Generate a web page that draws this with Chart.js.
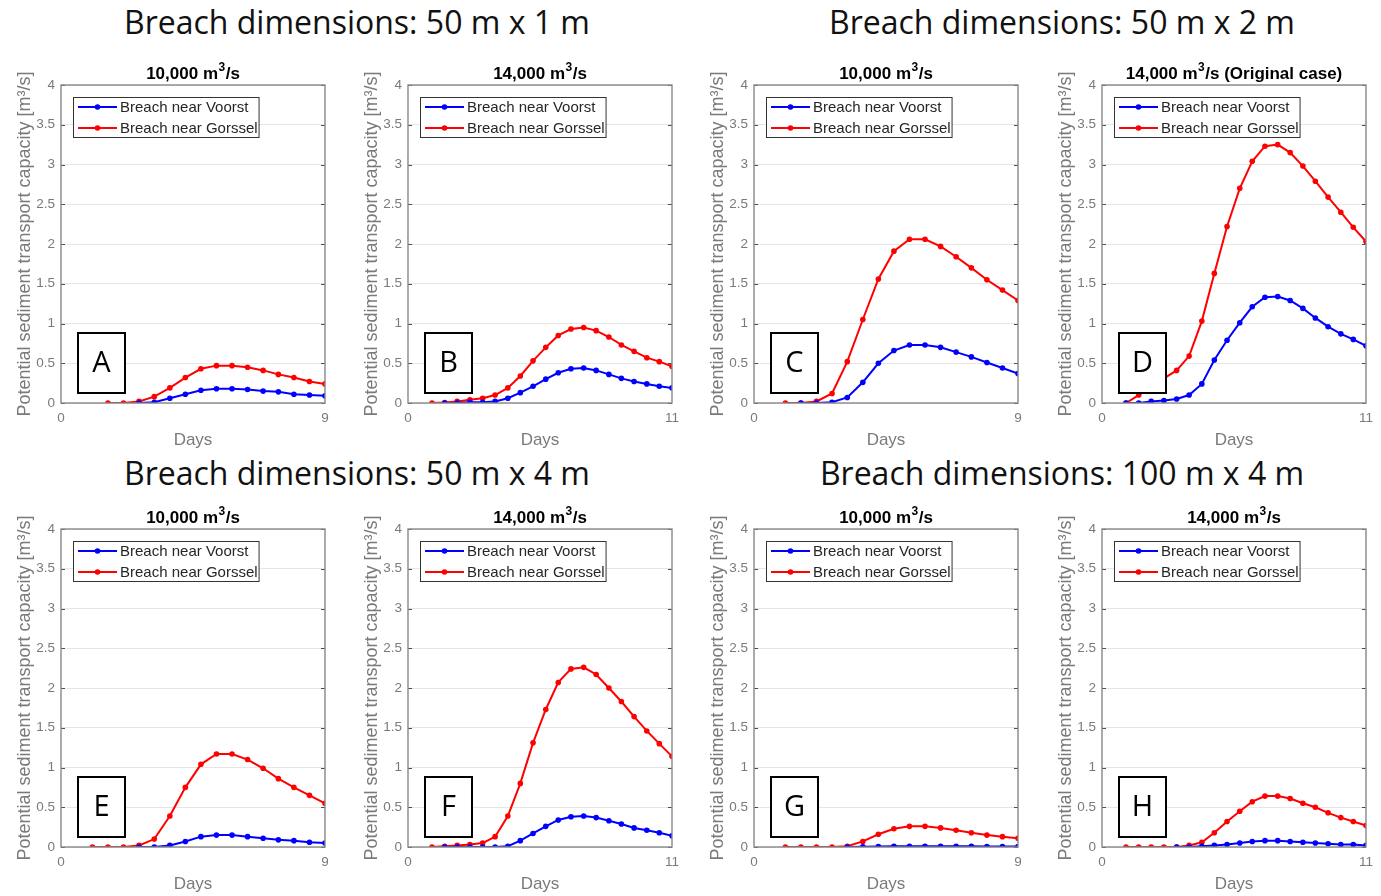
<!DOCTYPE html>
<html lang="en">
<head>
  <meta charset="UTF-8">
  <title>Breach sediment transport capacity</title>
  <script src="https://cdn.jsdelivr.net/npm/chart.js"></script>
  <style>
    html, body {
      margin: 0;
      padding: 0;
      background: #fff;
      overflow: hidden;
    }
    #page {
      position: relative;
      width: 1381px;
      height: 896px;
    }
    .group-title {
      position: absolute;
      width: 700px;
      text-align: center;
      font-family: "Open Sans", sans-serif;
      font-size: 32px;
      color: #111;
      line-height: 40px;
      white-space: nowrap;
    }
    .panel {
      position: absolute;
      width: 340px;
      height: 397px;
    }
  </style>
</head>
<body>
  <div id="page">
    <div class="group-title" style="left:7px; top:2px;">Breach dimensions: 50 m x 1 m</div>
    <div class="group-title" style="left:712px; top:2px;">Breach dimensions: 50 m x 2 m</div>
    <div class="group-title" style="left:7px; top:453px;">Breach dimensions: 50 m x 4 m</div>
    <div class="group-title" style="left:712px; top:453px;">Breach dimensions: 100 m x 4 m</div>

    <div class="panel" style="left:0px; top:55px;"><canvas id="chartA"></canvas></div>
    <div class="panel" style="left:347px; top:55px;"><canvas id="chartB"></canvas></div>
    <div class="panel" style="left:693px; top:55px;"><canvas id="chartC"></canvas></div>
    <div class="panel" style="left:1041px; top:55px;"><canvas id="chartD"></canvas></div>
    <div class="panel" style="left:0px; top:499px;"><canvas id="chartE"></canvas></div>
    <div class="panel" style="left:347px; top:499px;"><canvas id="chartF"></canvas></div>
    <div class="panel" style="left:693px; top:499px;"><canvas id="chartG"></canvas></div>
    <div class="panel" style="left:1041px; top:499px;"><canvas id="chartH"></canvas></div>
  </div>

  <script>
    // time axis (days) for the 10,000 m3/s runs and for the 14,000 m3/s runs
    const daysShort = [1.07, 1.60, 2.13, 2.66, 3.18, 3.71, 4.24, 4.77, 5.30, 5.83, 6.36, 6.89, 7.41, 7.94, 8.47, 9.00];
    const daysLong = [1.00, 1.53, 2.05, 2.58, 3.11, 3.63, 4.16, 4.68, 5.21, 5.74, 6.26, 6.79, 7.32, 7.84, 8.37, 8.89, 9.42, 9.95, 10.47, 11.00];

    const seriesNames = ['Breach near Voorst', 'Breach near Gorssel'];
    const yTicks = [0, 0.5, 1, 1.5, 2, 2.5, 3, 3.5, 4];

    // A: 50 m x 1 m, 10,000 m3/s
    const voorstA = [null, null, null, 0, 0.01, 0.06, 0.11, 0.16, 0.18, 0.18, 0.17, 0.15, 0.14, 0.11, 0.10, 0.09];
    const gorsselA = [null, 0, 0, 0.02, 0.08, 0.19, 0.32, 0.43, 0.47, 0.47, 0.45, 0.41, 0.36, 0.32, 0.27, 0.24];
    // B: 50 m x 1 m, 14,000 m3/s
    const voorstB = [null, 0, 0, 0.01, 0.01, 0.02, 0.06, 0.13, 0.21, 0.30, 0.38, 0.43, 0.44, 0.41, 0.36, 0.31, 0.27, 0.24, 0.21, 0.19];
    const gorsselB = [0, 0.005, 0.02, 0.04, 0.06, 0.10, 0.19, 0.34, 0.53, 0.70, 0.85, 0.93, 0.95, 0.91, 0.83, 0.73, 0.65, 0.57, 0.52, 0.46];
    // C: 50 m x 2 m, 10,000 m3/s
    const voorstC = [null, 0, 0, 0.01, 0.07, 0.26, 0.50, 0.66, 0.73, 0.73, 0.70, 0.64, 0.58, 0.51, 0.44, 0.37];
    const gorsselC = [0, 0, 0.02, 0.12, 0.52, 1.05, 1.56, 1.91, 2.06, 2.06, 1.97, 1.84, 1.70, 1.55, 1.42, 1.29];
    // D: 50 m x 2 m, 14,000 m3/s (original case)
    const voorstD = [0, 0, 0.02, 0.03, 0.05, 0.10, 0.24, 0.54, 0.79, 1.01, 1.21, 1.33, 1.34, 1.29, 1.19, 1.07, 0.96, 0.87, 0.80, 0.72];
    const gorsselD = [0, 0.10, 0.21, 0.31, 0.41, 0.59, 1.03, 1.63, 2.22, 2.70, 3.04, 3.23, 3.25, 3.15, 2.98, 2.79, 2.59, 2.40, 2.21, 2.03];
    // E: 50 m x 4 m, 10,000 m3/s
    const voorstE = [null, null, null, 0, 0, 0.02, 0.07, 0.13, 0.15, 0.15, 0.13, 0.11, 0.09, 0.08, 0.06, 0.05];
    const gorsselE = [0, 0, 0, 0.02, 0.10, 0.39, 0.75, 1.04, 1.17, 1.17, 1.10, 0.99, 0.86, 0.75, 0.65, 0.55];
    // F: 50 m x 4 m, 14,000 m3/s
    const voorstF = [null, 0, 0, 0, 0, 0, 0.01, 0.08, 0.17, 0.26, 0.34, 0.38, 0.39, 0.37, 0.33, 0.29, 0.24, 0.21, 0.18, 0.14];
    const gorsselF = [0, 0.01, 0.02, 0.03, 0.05, 0.13, 0.39, 0.80, 1.31, 1.73, 2.07, 2.24, 2.26, 2.17, 2.00, 1.83, 1.64, 1.46, 1.30, 1.14];
    // G: 100 m x 4 m, 10,000 m3/s
    const voorstG = [null, null, null, null, 0, 0.003, 0.006, 0.008, 0.01, 0.01, 0.01, 0.009, 0.008, 0.007, 0.006, 0.005];
    const gorsselG = [0, 0, 0, 0, 0.01, 0.07, 0.16, 0.23, 0.26, 0.26, 0.24, 0.21, 0.18, 0.15, 0.13, 0.11];
    // H: 100 m x 4 m, 14,000 m3/s
    const voorstH = [null, null, null, null, 0, 0, 0.01, 0.02, 0.03, 0.05, 0.07, 0.08, 0.08, 0.07, 0.06, 0.05, 0.04, 0.03, 0.03, 0.02];
    const gorsselH = [0, 0, 0, 0, 0, 0.02, 0.06, 0.18, 0.32, 0.45, 0.57, 0.64, 0.64, 0.61, 0.55, 0.50, 0.43, 0.37, 0.32, 0.27];

    // panel titles are split round the superscript 3
    const panels = [
      { id: 'chartA', letter: 'A', title: ['10,000 m', '3', '/s'], days: daysShort, maxDay: 9, voorst: voorstA, gorssel: gorsselA },
      { id: 'chartB', letter: 'B', title: ['14,000 m', '3', '/s'], days: daysLong, maxDay: 11, voorst: voorstB, gorssel: gorsselB },
      { id: 'chartC', letter: 'C', title: ['10,000 m', '3', '/s'], days: daysShort, maxDay: 9, voorst: voorstC, gorssel: gorsselC },
      { id: 'chartD', letter: 'D', title: ['14,000 m', '3', '/s (Original case)'], days: daysLong, maxDay: 11, voorst: voorstD, gorssel: gorsselD },
      { id: 'chartE', letter: 'E', title: ['10,000 m', '3', '/s'], days: daysShort, maxDay: 9, voorst: voorstE, gorssel: gorsselE },
      { id: 'chartF', letter: 'F', title: ['14,000 m', '3', '/s'], days: daysLong, maxDay: 11, voorst: voorstF, gorssel: gorsselF },
      { id: 'chartG', letter: 'G', title: ['10,000 m', '3', '/s'], days: daysShort, maxDay: 9, voorst: voorstG, gorssel: gorsselG },
      { id: 'chartH', letter: 'H', title: ['14,000 m', '3', '/s'], days: daysLong, maxDay: 11, voorst: voorstH, gorssel: gorsselH }
    ];

    const seriesColors = ['#0000ff', '#ff0000'];
    const axisGray = '#7a7a7a';
    const sans = '"Liberation Sans", Arial, sans-serif';

    function toPoints(days, values) {
      return days.map((d, i) => ({ x: d, y: values[i] })).filter(p => p.y !== null);
    }

    // MATLAB-like decorations: box, inner ticks, panel title, legend, letter box
    const matlabBox = {
      id: 'matlabBox',
      afterDatasetsDraw(chart, args, opts) {
        const { ctx, chartArea: a } = chart;
        const yScale = chart.scales.y;
        ctx.save();

        // ticks on both sides, pointing in
        ctx.strokeStyle = '#4d4d4d';
        ctx.lineWidth = 1;
        yTicks.forEach(v => {
          const y = Math.round(yScale.getPixelForValue(v)) + 0.5;
          ctx.beginPath();
          ctx.moveTo(a.left, y); ctx.lineTo(a.left + 4, y);
          ctx.moveTo(a.right, y); ctx.lineTo(a.right - 4, y);
          ctx.stroke();
        });

        // frame
        ctx.strokeStyle = '#888';
        ctx.lineWidth = 1.4;
        ctx.strokeRect(a.left, a.top, a.right - a.left, a.bottom - a.top);

        // panel title with a superscript
        const [t1, sup, t2] = opts.title;
        const mainFont = 'bold 17px ' + sans;
        const supFont = 'bold 12px ' + sans;
        ctx.textBaseline = 'alphabetic';
        ctx.textAlign = 'left';
        ctx.font = mainFont;
        const w1 = ctx.measureText(t1).width, w3 = ctx.measureText(t2).width;
        ctx.font = supFont;
        const w2 = ctx.measureText(sup).width + 1;
        let tx = (a.left + a.right) / 2 - (w1 + w2 + w3) / 2;
        const base = a.top - 6;
        ctx.fillStyle = '#000';
        ctx.font = mainFont;
        ctx.fillText(t1, tx, base);
        ctx.font = supFont;
        ctx.fillText(sup, tx + w1 + 0.5, base - 8);
        ctx.font = mainFont;
        ctx.fillText(t2, tx + w1 + w2, base);

        // legend
        ctx.font = '15px ' + sans;
        ctx.textAlign = 'left';
        ctx.textBaseline = 'middle';
        const textW = Math.max(...seriesNames.map(n => ctx.measureText(n).width));
        const bx = a.left + 12, by = a.top + 12;
        const bw = 47 + textW + 1, bh = 40;
        ctx.fillStyle = '#fff';
        ctx.fillRect(bx, by, bw, bh);
        ctx.strokeStyle = '#333';
        ctx.lineWidth = 1;
        ctx.strokeRect(bx + 0.5, by + 0.5, bw, bh);
        seriesNames.forEach((name, i) => {
          const ly = by + 10 + i * 21;
          ctx.strokeStyle = seriesColors[i];
          ctx.lineWidth = 2;
          ctx.beginPath();
          ctx.moveTo(bx + 5, ly); ctx.lineTo(bx + 44, ly);
          ctx.stroke();
          ctx.fillStyle = seriesColors[i];
          ctx.beginPath();
          ctx.arc(bx + 24.5, ly, 2.8, 0, Math.PI * 2);
          ctx.fill();
          ctx.fillStyle = '#262626';
          ctx.fillText(name, bx + 47, ly + 1);
        });

        // letter box
        const lx = a.left + 17, lw = 47, lh = 60;
        const ly0 = a.bottom - 10 - lh;
        ctx.fillStyle = '#fff';
        ctx.fillRect(lx, ly0, lw, lh);
        ctx.strokeStyle = '#000';
        ctx.lineWidth = 2;
        ctx.strokeRect(lx, ly0, lw, lh);
        ctx.fillStyle = '#000';
        ctx.font = '29px "Open Sans", sans-serif';
        ctx.textAlign = 'center';
        ctx.fillText(opts.letter, lx + lw / 2, ly0 + lh / 2 + 1);

        ctx.restore();
      }
    };

    panels.forEach(p => {
      const ctx = document.getElementById(p.id).getContext('2d');
      new Chart(ctx, {
        type: 'line',
        data: {
          datasets: [
            {
              label: seriesNames[0],
              data: toPoints(p.days, p.voorst),
              borderColor: seriesColors[0],
              backgroundColor: seriesColors[0],
              borderWidth: 2,
              pointRadius: 2.8,
              pointBorderWidth: 0,
              tension: 0
            },
            {
              label: seriesNames[1],
              data: toPoints(p.days, p.gorssel),
              borderColor: seriesColors[1],
              backgroundColor: seriesColors[1],
              borderWidth: 2,
              pointRadius: 2.8,
              pointBorderWidth: 0,
              tension: 0
            }
          ]
        },
        options: {
          responsive: true,
          maintainAspectRatio: false,
          animation: false,
          events: [],
          layout: { padding: { left: 0, right: 15, top: 30, bottom: 0 } },
          plugins: {
            legend: { display: false },
            tooltip: { enabled: false },
            matlabBox: { title: p.title, letter: p.letter }
          },
          scales: {
            x: {
              type: 'linear',
              min: 0,
              max: p.maxDay,
              afterBuildTicks: s => { s.ticks = [{ value: 0 }, { value: p.maxDay }]; },
              afterFit: s => { s.height = 49; },
              grid: { display: false, drawTicks: false },
              border: { display: false },
              ticks: {
                color: axisGray,
                font: { family: sans, size: 13.5 },
                padding: 7,
                maxRotation: 0
              },
              title: {
                display: true,
                text: 'Days',
                color: axisGray,
                font: { family: sans, size: 17 },
                padding: { top: 0, bottom: 1.8 }
              }
            },
            y: {
              min: 0,
              max: 4,
              afterBuildTicks: s => { s.ticks = yTicks.map(v => ({ value: v })); },
              afterFit: s => { s.width = 61; },
              grid: { color: '#e6e6e6', drawTicks: false },
              border: { display: false },
              ticks: {
                color: axisGray,
                font: { family: sans, size: 13.5 },
                padding: 6,
                callback: v => String(v)
              },
              title: {
                display: true,
                text: 'Potential sediment transport capacity [m³/s]',
                color: axisGray,
                font: { family: sans, size: 18 },
                padding: { top: 14, bottom: 0 }
              }
            }
          }
        },
        plugins: [matlabBox]
      });
    });
  </script>
</body>
</html>
